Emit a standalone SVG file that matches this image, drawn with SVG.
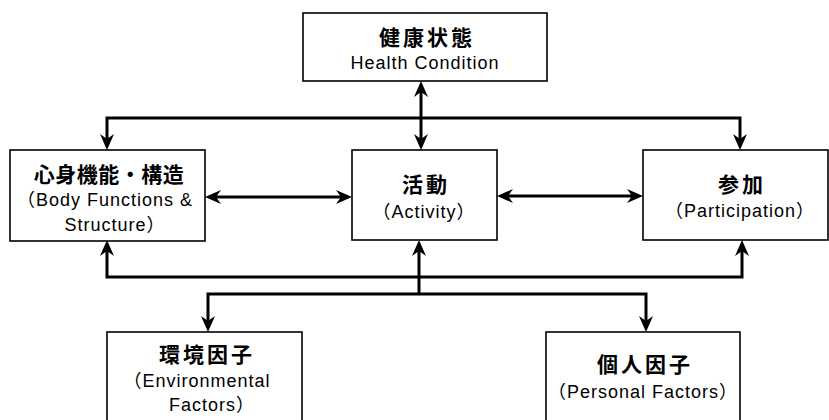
<svg xmlns="http://www.w3.org/2000/svg" width="829" height="420" viewBox="0 0 829 420">
<style>
.box{fill:#fff;stroke:#000;stroke-width:1.6}
.jp{font-family:"Noto Sans CJK JP","Liberation Sans",sans-serif;font-size:21px;font-weight:700;letter-spacing:3px;text-anchor:middle;fill:#000}
.en{font-family:"Liberation Sans","Noto Sans CJK JP",sans-serif;font-size:18px;letter-spacing:1px;text-anchor:middle;fill:#000}
.con{fill:none;stroke:#000;stroke-width:3;marker-start:url(#ah);marker-end:url(#ah)}
.one{fill:none;stroke:#000;stroke-width:3;marker-end:url(#ah)}
</style>
<defs>
<marker id="ah" markerUnits="userSpaceOnUse" markerWidth="16" markerHeight="16" viewBox="0 0 16 16" refX="12" refY="8" orient="auto-start-reverse">
<path d="M0,1 L16,8 L0,15 L5,8 z" fill="#000"/>
</marker>
</defs>
<rect width="829" height="420" fill="#fff"/>
<g id="connectors">
<path class="con" d="M107,146 V118 H740 V146"/>
<path class="con" d="M421,85 V146"/>
<path class="con" d="M209,197 H348"/>
<path class="con" d="M501,196 H639"/>
<path class="con" d="M107,244 V277 H742 V244"/>
<path class="one" d="M419,294 V244"/>
<path class="con" d="M208,328 V294 H646 V328"/>
</g>
<g id="health">
<rect class="box" x="303" y="13" width="244" height="68"/>
<text class="jp" x="427" y="45">健康状態</text>
<text class="en" x="425" y="69">Health Condition</text>
</g>
<g id="body">
<rect class="box" x="10" y="150" width="195" height="91"/>
<text class="jp" x="109" y="182" style="letter-spacing:0.5px">心身機能・構造</text>
<text class="en" x="105" y="206">（Body Functions &amp;</text>
<text class="en" x="115" y="231">Structure）</text>
</g>
<g id="activity">
<rect class="box" x="352" y="150" width="145" height="90"/>
<text class="jp" x="426" y="192">活動</text>
<text class="en" x="424" y="218">（Activity）</text>
</g>
<g id="participation">
<rect class="box" x="643" y="150" width="185" height="90"/>
<text class="jp" x="742" y="192">参加</text>
<text class="en" x="740" y="217">（Participation）</text>
</g>
<g id="environmental">
<rect class="box" x="107" y="332" width="195" height="100"/>
<text class="jp" x="207" y="362">環境因子</text>
<text class="en" x="197" y="387">（Environmental</text>
<text class="en" x="212" y="411">Factors）</text>
</g>
<g id="personal">
<rect class="box" x="546" y="332" width="194" height="100"/>
<text class="jp" x="645" y="372">個人因子</text>
<text class="en" x="643" y="398">（Personal Factors）</text>
</g>
</svg>
